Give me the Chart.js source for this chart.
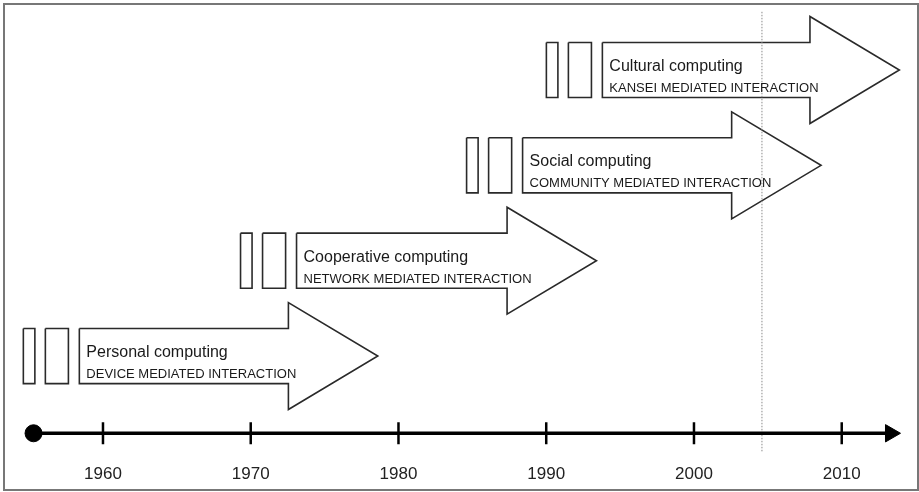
<!DOCTYPE html>
<html>
<head>
<meta charset="utf-8">
<title>Computing eras</title>
<script src="https://cdn.jsdelivr.net/npm/chart.js@4.4.1/dist/chart.umd.min.js"></script>
<style>
  html, body { margin: 0; padding: 0; background: #fff; }
  #wrap { position: relative; width: 919px; height: 492px; }
  #wrap canvas { display: block; }
  #frame { position: absolute; left: 3px; top: 3px; width: 912px; height: 484px; border: 2px solid #777; pointer-events: none; }
</style>
</head>
<body>
<div id="wrap">
  <canvas id="chart" width="919" height="492"></canvas>
  <div id="frame"></div>
</div>
<script>
const eraTitles = ["Personal computing", "Cooperative computing", "Social computing", "Cultural computing"];
const eraSubtitles = ["DEVICE MEDIATED INTERACTION", "NETWORK MEDIATED INTERACTION", "COMMUNITY MEDIATED INTERACTION", "KANSEI MEDIATED INTERACTION"];
const eraStart = [1958.4, 1973.1, 1988.4, 1993.8];
const eraEnd = [1978.6, 1993.4, 2008.6, 2013.9];
const eraLevel = [1, 2, 3, 4];
const tickYears = [1960, 1970, 1980, 1990, 2000, 2010];
const timelineStart = 1955.3;
const timelineEnd = 2013.3;
const markerYear = 2004.6;

// shape of the arrows, in years / rows
const ROW_SHIFT = 0.19;
const SHAFT_HALF = 0.289;
const HEAD_HALF = 0.561;
const HEAD_LEN = 6.05;
const BAR1 = [-3.79, -3.01];
const BAR2 = [-2.30, -0.74];

const INK = "#2a2a2a";
const FONT = '"Liberation Sans", Arial, sans-serif';

function outline(points) {
  return {
    data: points,
    borderColor: INK,
    borderWidth: 1.6,
    borderJoinStyle: "miter",
    backgroundColor: "#fff",
    fill: "shape",
    pointRadius: 0,
    tension: 0,
    order: 2,
  };
}

function bar(s, c, b) {
  return outline([
    { x: s + b[0], y: c + SHAFT_HALF },
    { x: s + b[1], y: c + SHAFT_HALF },
    { x: s + b[1], y: c - SHAFT_HALF },
    { x: s + b[0], y: c - SHAFT_HALF },
    { x: s + b[0], y: c + SHAFT_HALF },
  ]);
}

function arrow(s, t, c) {
  const h = t - HEAD_LEN;
  return outline([
    { x: s, y: c + SHAFT_HALF },
    { x: h, y: c + SHAFT_HALF },
    { x: h, y: c + HEAD_HALF },
    { x: t, y: c },
    { x: h, y: c - HEAD_HALF },
    { x: h, y: c - SHAFT_HALF },
    { x: s, y: c - SHAFT_HALF },
    { x: s, y: c + SHAFT_HALF },
  ]);
}

const datasets = [];
eraTitles.forEach((_, i) => {
  const c = eraLevel[i] - ROW_SHIFT;
  datasets.push(bar(eraStart[i], c, BAR1));
  datasets.push(bar(eraStart[i], c, BAR2));
  datasets.push(arrow(eraStart[i], eraEnd[i], c));
});

// timeline with dot and arrow head
datasets.push({
  data: [{ x: timelineStart, y: 0 }, { x: timelineEnd, y: 0 }],
  borderColor: "#000",
  borderWidth: 3.5,
  pointStyle: ["circle", "triangle"],
  pointRadius: [8.5, 10],
  pointRotation: [0, 90],
  pointBackgroundColor: "#000",
  pointBorderColor: "#000",
  pointBorderWidth: 1,
  fill: false,
  order: 0,
});

// decade ticks
datasets.push({
  data: tickYears.map((v) => ({ x: v, y: 0 })),
  showLine: false,
  pointStyle: "line",
  pointRadius: 11,
  pointRotation: 90,
  pointBorderColor: "#000",
  pointBorderWidth: 2.5,
  fill: false,
  order: 0,
});

// dotted "now" marker
datasets.push({
  data: [{ x: markerYear, y: 4.42 }, { x: markerYear, y: -0.2 }],
  borderColor: "#8a8a8a",
  borderWidth: 1,
  borderDash: [1.5, 1.5],
  pointRadius: 0,
  fill: false,
  order: 0,
});

const eraLabels = {
  id: "eraLabels",
  afterDatasetsDraw(chart) {
    const { ctx, scales: { x, y } } = chart;
    ctx.save();
    ctx.fillStyle = "#1a1a1a";
    ctx.textAlign = "left";
    ctx.textBaseline = "alphabetic";
    eraTitles.forEach((title, i) => {
      const px = x.getPixelForValue(eraStart[i]) + 7;
      const py = y.getPixelForValue(eraLevel[i] - ROW_SHIFT);
      ctx.font = "16px " + FONT;
      ctx.fillText(title, px, py + 1);
      ctx.font = "13px " + FONT;
      ctx.fillText(eraSubtitles[i], px, py + 22);
    });
    ctx.restore();
  },
};

new Chart(document.getElementById("chart"), {
  type: "line",
  data: { datasets },
  options: {
    responsive: false,
    animation: false,
    events: [],
    layout: { autoPadding: false, padding: { left: 0, right: 0, top: 0, bottom: 4 } },
    plugins: { legend: { display: false }, tooltip: { enabled: false } },
    scales: {
      x: {
        type: "linear",
        min: 1953.03,
        max: 2015.23,
        afterBuildTicks: (s) => {
          s.ticks = tickYears.map((v) => ({ value: v }));
        },
        grid: { display: false, drawTicks: false },
        border: { display: false },
        ticks: {
          font: { family: FONT, size: 17 },
          color: "#222",
          padding: 3,
          maxRotation: 0,
          autoSkip: false,
          callback: (v) => String(v),
        },
      },
      y: { type: "linear", display: false, min: -0.297, max: 4.544 },
    },
  },
  plugins: [eraLabels],
});
</script>
</body>
</html>
